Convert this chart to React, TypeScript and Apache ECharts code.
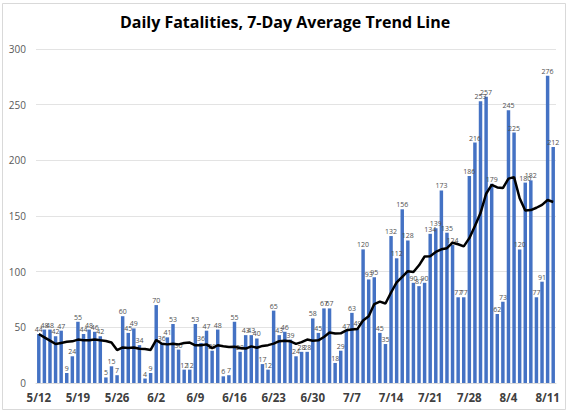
import React, { useEffect, useRef } from "react";
import * as echarts from "echarts";

const dates: string[] = [
  "5/12","5/13","5/14","5/15","5/16","5/17","5/18","5/19","5/20","5/21","5/22","5/23","5/24","5/25","5/26","5/27","5/28","5/29","5/30","5/31",
  "6/1","6/2","6/3","6/4","6/5","6/6","6/7","6/8","6/9","6/10","6/11","6/12","6/13","6/14","6/15","6/16","6/17","6/18","6/19","6/20",
  "6/21","6/22","6/23","6/24","6/25","6/26","6/27","6/28","6/29","6/30",
  "7/1","7/2","7/3","7/4","7/5","7/6","7/7","7/8","7/9","7/10","7/11","7/12","7/13","7/14","7/15","7/16","7/17","7/18","7/19","7/20",
  "7/21","7/22","7/23","7/24","7/25","7/26","7/27","7/28","7/29","7/30","7/31",
  "8/1","8/2","8/3","8/4","8/5","8/6","8/7","8/8","8/9","8/10","8/11","8/12",
];

const fatalities: number[] = [
  44, 48, 48, 42, 47, 9, 24, 55, 44, 48, 46, 42, 5, 15, 7, 60, 45, 49, 34, 4,
  9, 70, 36, 41, 53, 30, 12, 12, 53, 36, 47, 29, 48, 6, 7, 55, 28, 43, 43, 40,
  17, 12, 65, 43, 46, 39, 24, 28, 28, 58,
  45, 67, 67, 18, 29, 47, 63, 49, 120, 93, 95, 45, 35, 132, 112, 156, 128, 90, 87, 90,
  134, 139, 173, 135, 124, 77, 77, 186, 216, 253, 257,
  179, 62, 73, 245, 225, 120, 180, 182, 77, 91, 276, 212,
];

const average: number[] = [
  44, 41, 38, 35, 36, 37, 37.4, 39, 38.4, 38.4, 39, 38.3, 37.7, 36.4, 29.6, 31.9, 31.4, 31.9, 30.7, 30.6,
  29.7, 38.7, 35.3, 34.7, 35.3, 34.7, 35.9, 36.3, 33.9, 33.9, 34.7, 31.3, 33.9, 33, 32.3, 32.6, 31.4, 30.9, 32.9, 31.7,
  33.3, 34, 35.4, 37.6, 38, 37.4, 35.1, 36.7, 39, 38,
  38.3, 41.3, 45.3, 44.4, 44.6, 47.3, 48, 48.6, 56.1, 59.9, 70.9, 73.1, 71.4, 81.3, 90.3, 95.4, 100.4, 99.7, 105.7, 113.6,
  113.9, 117.7, 120.1, 121.1, 126, 124.6, 122.7, 130.1, 141.1, 152.6, 170,
  177.9, 175.7, 175.1, 183.6, 184.9, 165.9, 154.9, 155.3, 157.4, 160, 164.4, 162.6,
];

const yTicks = { min: 0, max: 300, interval: 50 };

export default function App() {
  const ref = useRef<HTMLDivElement>(null);

  useEffect(() => {
    if (!ref.current) return;
    const chart = echarts.init(ref.current, undefined, { renderer: "svg" });
    const font = "'Open Sans', 'Noto Sans', sans-serif";
    chart.setOption({
      animation: false,
      backgroundColor: "#ffffff",
      textStyle: { fontFamily: font },
      title: {
        text: "Daily Fatalities, 7-Day Average Trend Line",
        left: "center",
        top: 9,
        textStyle: { fontFamily: font, fontWeight: "bold", fontSize: 16, color: "#000000" },
      },
      graphic: [
        {
          type: "rect",
          shape: { x: 2.5, y: 3.5, width: 563, height: 406 },
          style: { fill: "none", stroke: "#d9d9d9", lineWidth: 1 },
          silent: true,
        },
      ],
      grid: { left: 36, right: 14, top: 49, bottom: 31 },
      xAxis: {
        type: "category",
        data: dates,
        axisTick: { show: false },
        axisLine: { lineStyle: { color: "#d9d9d9" } },
        axisLabel: {
          interval: 6,
          fontSize: 11.5,
          fontWeight: "bold",
          color: "#404040",
          margin: 8,
          fontFamily: font,
        },
      },
      yAxis: {
        type: "value",
        min: yTicks.min,
        max: yTicks.max,
        interval: yTicks.interval,
        axisLine: { show: false },
        axisTick: { show: false },
        splitLine: { lineStyle: { color: "#e3e3e3" } },
        axisLabel: { fontSize: 10, color: "#595959", margin: 10, fontFamily: font },
      },
      series: [
        {
          type: "bar",
          data: fatalities,
          barCategoryGap: "38%",
          itemStyle: { color: "#4472C4" },
          label: {
            show: true,
            position: "top",
            distance: 1,
            fontSize: 7,
            color: "#505050",
            fontFamily: font,
          },
        },
        {
          type: "line",
          data: average,
          symbol: "none",
          z: 5,
          lineStyle: { color: "#000000", width: 2.5 },
        },
      ],
    });
    return () => chart.dispose();
  }, []);

  return (
    <div
      ref={ref}
      style={{ position: "fixed", left: 0, top: 0, width: 570, height: 414 }}
    />
  );
}
